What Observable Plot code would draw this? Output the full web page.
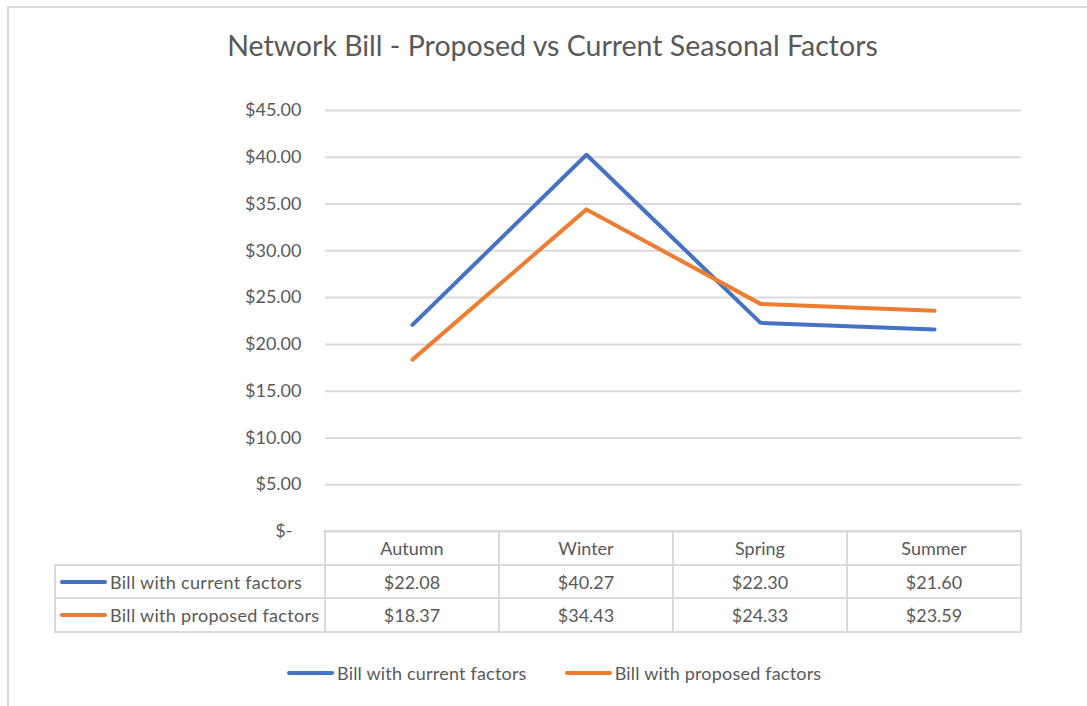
<!DOCTYPE html>
<html>
<head>
<meta charset="utf-8">
<script src="https://cdn.jsdelivr.net/npm/d3@7"></script>
<script src="https://cdn.jsdelivr.net/npm/@observablehq/plot@0.6"></script>
<style>
  body { margin: 0; background: #fff; }
  #chart { position: relative; width: 1087px; height: 706px; overflow: hidden; font-family: Lato, "Open Sans", sans-serif; color: #595959; background: #fff; }
  #frame { position: absolute; left: 7px; top: 6px; width: 1100px; height: 720px; border-left: 2px solid #d9d9d9; border-top: 2px solid #d9d9d9; box-sizing: border-box; }
  #title { position: absolute; left: 0; top: 28px; width: 1105px; text-align: center; font-size: 28.5px; white-space: nowrap; }
  #plot { position: absolute; left: 0; top: 0; }
  .cell { position: absolute; box-sizing: border-box; border: 2px solid #dadada; display: flex; align-items: center; justify-content: center; font-size: 18px; white-space: nowrap; }
  .cell.lab { justify-content: flex-start; letter-spacing: 0.3px; }
  .key { display: inline-block; width: 47px; height: 4px; border-radius: 2px; margin-right: 3px; }
  #legend { position: absolute; top: 662px; left: 287px; display: flex; align-items: center; font-size: 18px; white-space: nowrap; letter-spacing: 0.2px; }
  #legend .item { display: flex; align-items: center; }
</style>
</head>
<body>
<div id="chart">
  <div id="frame"></div>
  <div id="title">Network Bill - Proposed vs Current Seasonal Factors</div>
  <div id="plot"></div>
  <div id="table"></div>
  <div id="legend"></div>
</div>
<script>
const seasons = ["Autumn", "Winter", "Spring", "Summer"];
const currentBill = [22.08, 40.27, 22.30, 21.60];
const proposedBill = [18.37, 34.43, 24.33, 23.59];
const seriesNames = ["Bill with current factors", "Bill with proposed factors"];
const seriesColors = ["#4472C4", "#ED7D31"];
const yTicks = [0, 5, 10, 15, 20, 25, 30, 35, 40, 45];

const seriesValues = [currentBill, proposedBill];
const data = [];
seriesNames.forEach((name, i) => seasons.forEach((s, j) => data.push({series: name, season: s, value: seriesValues[i][j]})));

const money = v => v === 0 ? "$-\u2002" : "$" + v.toFixed(2);

const W = 1087, H = 706;
const mL = 325, mR = 66, mT = 110, mB = 175;

const plot = Plot.plot({
  width: W, height: H,
  marginLeft: mL, marginRight: mR, marginTop: mT, marginBottom: mB,
  style: {fontFamily: "Lato, sans-serif", fontSize: "18px", color: "#595959", background: "transparent"},
  x: {type: "point", domain: seasons, padding: 0.5, axis: null},
  y: {domain: [0, 45], axis: null},
  color: {domain: seriesNames, range: seriesColors},
  marks: [
    Plot.ruleY(yTicks, {stroke: "#d9d9d9", strokeWidth: 2}),
    Plot.axisY(yTicks, {tickSize: 0, tickPadding: 24, tickFormat: money, label: null, fontSize: 18}),
    Plot.line(data, {x: "season", y: "value", z: "series", stroke: "series", strokeWidth: 4, strokeLinecap: "round", strokeLinejoin: "round"})
  ]
});
document.getElementById("plot").appendChild(plot);

// data table below the plot
const colEdges = [55, 325, 499, 673, 847, 1021];
const rowEdges = [531, 565, 598, 632];
const table = document.getElementById("table");
function cell(c, r, html, cls) {
  const d = document.createElement("div");
  d.className = "cell" + (cls ? " " + cls : "");
  d.style.left = (colEdges[c] - 1) + "px";
  d.style.top = (rowEdges[r] - 1) + "px";
  d.style.width = (colEdges[c + 1] - colEdges[c] + 2) + "px";
  d.style.height = (rowEdges[r + 1] - rowEdges[r] + 2) + "px";
  d.innerHTML = html;
  table.appendChild(d);
  return d;
}
seasons.forEach((s, j) => cell(j + 1, 0, s));
seriesNames.forEach((name, i) => {
  const lab = cell(0, i + 1, `<span class="key" style="background:${seriesColors[i]}"></span>${name}`, "lab");
  lab.style.paddingLeft = "4px";
  seasons.forEach((s, j) => cell(j + 1, i + 1, money(seriesValues[i][j])));
});

// legend
const legend = document.getElementById("legend");
seriesNames.forEach((name, i) => {
  const it = document.createElement("div");
  it.className = "item";
  if (i > 0) it.style.marginLeft = "38px";
  it.innerHTML = `<span class="key" style="background:${seriesColors[i]}"></span>${name}`;
  legend.appendChild(it);
});
</script>
</body>
</html>
